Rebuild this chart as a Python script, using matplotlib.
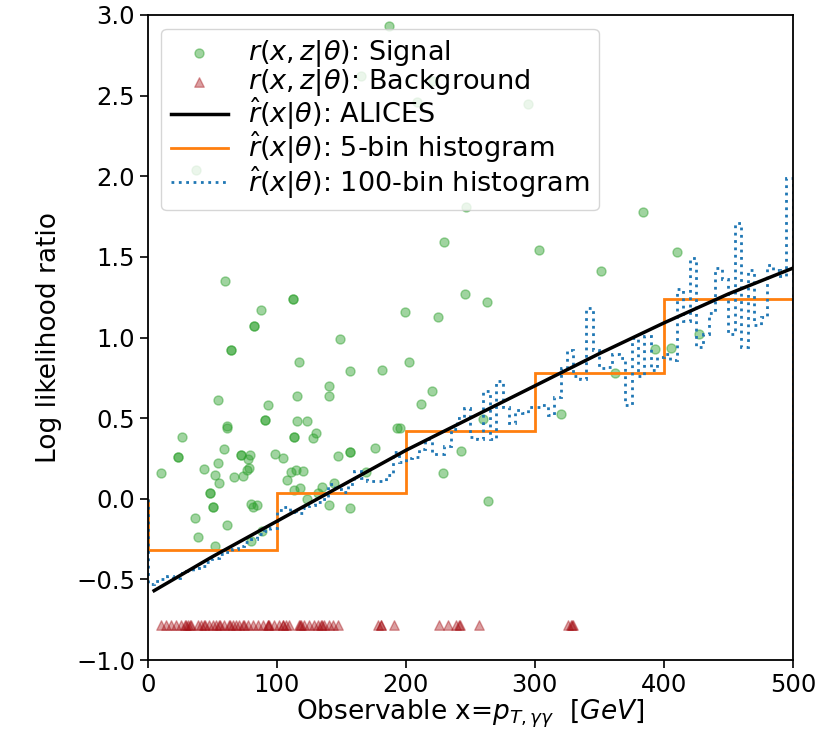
import numpy as np
import matplotlib
matplotlib.use("Agg")
import matplotlib.pyplot as plt

# signal events: observable x [GeV] and joint log likelihood ratio r(x,z|theta)
sig_x = [187, 294.6, 37.4, 165, 221, 208.5, 246.7, 230, 383.5, 302.9, 410, 351.7,
         60.2, 112.9, 112.9, 88.1, 82.7, 82.7, 64.9, 64.9, 149.1, 117.6, 199.7, 225.3,
         246.2, 263.3, 202.3, 156.6, 181.4, 140.8, 140.6, 115.5, 54.3, 93, 220.4, 212,
         61.2, 61.8, 90.7, 90.7, 115.8, 123.5, 193.5, 26.9, 23.8, 23.8, 10.3, 58.9,
         54.8, 52.5, 55, 43.4, 66.7, 73.6, 72.4, 72.4, 79.6, 77.5, 78.8, 77,
         98.3, 104.8, 113.2, 113.2, 128.2, 130.1, 111.3, 115.2, 120.3, 107.6, 113.1, 117.7,
         147.2, 157.1, 157.1, 176.5, 48.6, 48.6, 50.8, 50.8, 37, 38.7, 61.6, 51.8,
         79.7, 81.4, 85.1, 80, 88.9, 123.5, 135.2, 144.2, 140.4, 156.9, 228.8, 243,
         169.3, 132, 195.3, 260, 264, 361.8, 320.2, 393.4, 405.3, 427.4]
sig_r = [2.93, 2.45, 2.04, 2.62, 2.59, 2.46, 1.81, 1.59, 1.78, 1.54, 1.53, 1.41,
         1.35, 1.24, 1.24, 1.17, 1.07, 1.07, 0.92, 0.92, 0.99, 0.85, 1.16, 1.13,
         1.27, 1.22, 0.85, 0.79, 0.80, 0.70, 0.635, 0.64, 0.61, 0.58, 0.67, 0.59,
         0.45, 0.44, 0.49, 0.49, 0.48, 0.48, 0.44, 0.385, 0.26, 0.26, 0.16, 0.31,
         0.22, 0.15, 0.10, 0.185, 0.137, 0.14, 0.27, 0.27, 0.27, 0.245, 0.19, 0.18,
         0.276, 0.255, 0.38, 0.38, 0.375, 0.41, 0.168, 0.178, 0.174, 0.116, 0.054, 0.065,
         0.268, 0.288, 0.288, 0.313, 0.036, 0.036, -0.054, -0.054, -0.117, -0.24, -0.165, -0.293,
         -0.03, -0.049, -0.036, -0.261, -0.198, -0.001, 0.075, 0.096, -0.039, -0.055, 0.158, 0.296,
         0.168, 0.034, 0.437, 0.495, -0.017, 0.782, 0.528, 0.929, 0.933, 1.021]

# background events (all on one row)
bkg_x = [10.3, 14.2, 18.1, 22, 25.8, 28.9, 29.5, 31, 33.1, 33.5, 38.8, 41.3, 43.9, 44.2,
         47.8, 50.4, 53, 55.6, 56, 59.4, 63.3, 63.5, 65.9, 68.5, 71.1, 73.6, 74.9, 77.5,
         81.4, 85.3, 89.1, 93, 93.3, 94.3, 98.2, 102.1, 104.7, 105, 107.2, 109.8, 117.6,
         118.2, 118.9, 121.4, 125.3, 129.2, 131.8, 134.4, 134.8, 137, 140.8, 143.4, 147.3,
         178.3, 180.9, 181.2, 190.7, 226.1, 232.6, 239, 241.6, 242, 257.1, 326, 328, 328.5, 330]
bkg_r = [-0.785] * len(bkg_x)

# ALICES estimate
alices_x = [5, 50, 100, 150, 200, 250, 300, 350, 400, 450, 500]
alices_r = [-0.57, -0.36, -0.14, 0.08, 0.30, 0.50, 0.70, 0.90, 1.09, 1.27, 1.43]

# 5-bin histogram
hist5_edges = [0, 100, 200, 300, 400, 500]
hist5_r = [-0.32, 0.035, 0.42, 0.78, 1.24]

# 100-bin histogram (5 GeV bins)
hist100_r = [-0.53, -0.51, -0.50, -0.48, -0.49, -0.46, -0.45, -0.43, -0.42, -0.39,
             -0.37, -0.34, -0.33, -0.31, -0.29, -0.27, -0.25, -0.22, -0.20, -0.18,
             -0.07, -0.05, -0.08, -0.09, -0.06, -0.04, -0.02, 0.00, 0.09, 0.06,
             0.04, 0.09, 0.17, 0.13, 0.11, 0.11, 0.11, 0.15, 0.29, 0.23,
             0.25, 0.26, 0.31, 0.37, 0.28, 0.28, 0.33, 0.43, 0.50, 0.56,
             0.38, 0.37, 0.67, 0.37, 0.73, 0.57, 0.47, 0.55, 0.53, 0.57,
             0.57, 0.58, 0.52, 0.63, 0.81, 0.92, 0.76, 0.74, 1.18, 0.92,
             0.81, 0.82, 0.90, 0.87, 0.58, 1.00, 0.76, 1.01, 0.80, 0.88,
             0.90, 0.86, 1.30, 1.10, 1.49, 0.94, 1.02, 1.15, 1.43, 1.36,
             1.02, 1.71, 0.94, 1.42, 1.08, 1.13, 1.45, 1.42, 1.38, 1.99]
hist100_edges = np.linspace(0, 500, len(hist100_r) + 1)

plt.rcParams['font.family'] = ['DejaVu Sans']

fig = plt.figure(figsize=(8.25, 7.5), dpi=100)
ax = fig.add_axes([0.179, 0.12, 0.782, 0.86])

sc_sig = ax.scatter(sig_x, sig_r, s=42, marker='o', color='#2ca02c', alpha=0.45,
                    label=r'$r(x,z|\theta)$: Signal')
sc_bkg = ax.scatter(bkg_x, bkg_r, s=46, marker='^', color='#a50f15', alpha=0.4,
                    label=r'$r(x,z|\theta)$: Background')
st5 = ax.stairs(hist5_r, hist5_edges, baseline=0, color='#ff7f0e', lw=2,
                label=r'$\hat{r}(x|\theta)$: 5-bin histogram')
st100 = ax.stairs(hist100_r, hist100_edges, baseline=0, color='#1f77b4', lw=2,
                  linestyle=':', label=r'$\hat{r}(x|\theta)$: 100-bin histogram')
ln, = ax.plot(alices_x, alices_r, color='black', lw=2.5,
              label=r'$\hat{r}(x|\theta)$: ALICES')

ax.set_xlim(0, 500)
ax.set_ylim(-1.0, 3.0)
ax.set_xticks([0, 100, 200, 300, 400, 500])
ax.set_yticks(np.arange(-1.0, 3.01, 0.5))
ax.tick_params(labelsize=17.5, length=6, width=1.2, pad=3)
for sp in ax.spines.values():
    sp.set_linewidth(1.3)

ax.set_xlabel(r'Observable x=$p_{T,\gamma\gamma}$  [$GeV$]', fontsize=19, labelpad=1)
ax.set_ylabel('Log likelihood ratio', fontsize=19, labelpad=10)

ax.legend(handles=[sc_sig, sc_bkg, ln, st5, st100], loc='upper left', fontsize=19.5,
          scatterpoints=1, handlelength=2.1, labelspacing=-0.08, borderpad=0.35,
          handletextpad=0.75, borderaxespad=0.5)

fig.savefig('out.png', dpi=100)
